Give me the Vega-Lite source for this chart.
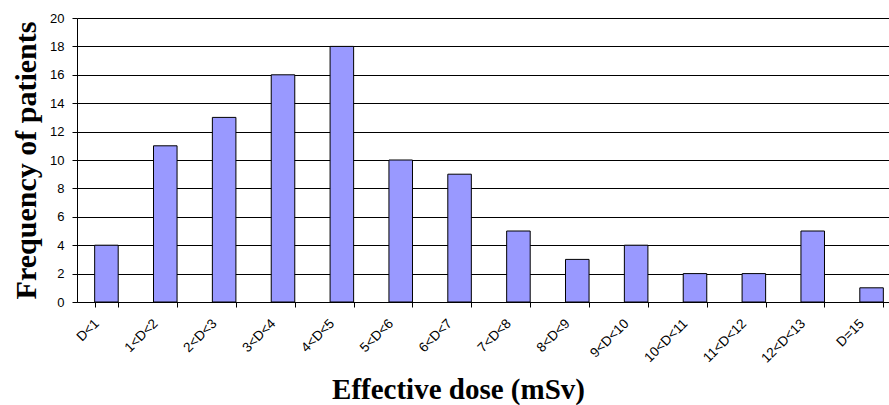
{
  "$schema": "https://vega.github.io/schema/vega-lite/v6.json",
  "width": 824,
  "height": 284,
  "autosize": {"type": "none"},
  "padding": {"left": 77, "top": 18, "right": 0, "bottom": 103},
  "background": "white",
  "data": {
    "values": [
      {"dose": "D<1", "patients": 4},
      {"dose": "1<D<2", "patients": 11},
      {"dose": "2<D<3", "patients": 13},
      {"dose": "3<D<4", "patients": 16},
      {"dose": "4<D<5", "patients": 18},
      {"dose": "5<D<6", "patients": 10},
      {"dose": "6<D<7", "patients": 9},
      {"dose": "7<D<8", "patients": 5},
      {"dose": "8<D<9", "patients": 3},
      {"dose": "9<D<10", "patients": 4},
      {"dose": "10<D<11", "patients": 2},
      {"dose": "11<D<12", "patients": 2},
      {"dose": "12<D<13", "patients": 5},
      {"dose": "D=15", "patients": 1}
    ]
  },
  "mark": {"type": "bar", "fill": "#9999FF", "stroke": "black", "strokeWidth": 1},
  "encoding": {
    "x": {
      "field": "dose",
      "type": "nominal",
      "sort": null,
      "scale": {"paddingInner": 0.6, "paddingOuter": 0.3},
      "axis": {
        "title": "Effective dose (mSv)",
        "labelAngle": -45,
        "labelAlign": "right",
        "labelBaseline": "middle",
        "labelFont": "Liberation Sans",
        "labelFontSize": 13.5,
        "labelColor": "black",
        "labelPadding": 14,
        "labelOffset": -10,
        "tickBand": "extent",
        "tickColor": "black",
        "tickSize": 5,
        "domainColor": "black",
        "titleFont": "Liberation Serif",
        "titleFontSize": 29,
        "titleFontWeight": "bold",
        "titleColor": "black",
        "titleX": 381,
        "titleY": 96,
        "titleBaseline": "alphabetic"
      }
    },
    "y": {
      "field": "patients",
      "type": "quantitative",
      "scale": {"domain": [0, 20]},
      "axis": {
        "title": "Frequency of patients",
        "values": [0, 2, 4, 6, 8, 10, 12, 14, 16, 18, 20],
        "grid": true,
        "gridColor": "black",
        "gridOpacity": 1,
        "gridWidth": 1,
        "labelFont": "Liberation Sans",
        "labelFontSize": 13,
        "labelColor": "black",
        "labelPadding": 8,
        "tickColor": "black",
        "tickSize": 5,
        "domainColor": "black",
        "titleFont": "Liberation Serif",
        "titleFontSize": 30,
        "titleFontWeight": "bold",
        "titleColor": "black",
        "titleX": -42,
        "titleBaseline": "alphabetic"
      }
    }
  },
  "config": {
    "view": {"stroke": null}
  }
}
